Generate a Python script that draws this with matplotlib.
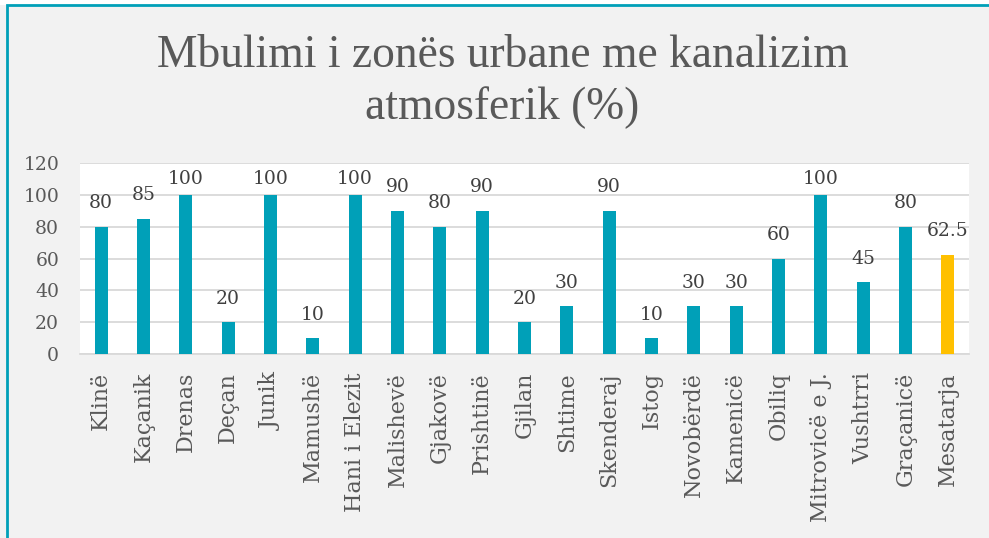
import matplotlib
matplotlib.use("Agg")
import matplotlib.pyplot as plt
from matplotlib.patches import Rectangle

categories = ["Klinë", "Kaçanik", "Drenas", "Deçan", "Junik", "Mamushë",
              "Hani i Elezit", "Malishevë", "Gjakovë", "Prishtinë", "Gjilan",
              "Shtime", "Skenderaj", "Istog", "Novobërdë", "Kamenicë", "Obiliq",
              "Mitrovicë e J.", "Vushtrri", "Graçanicë", "Mesatarja"]
values = [80, 85, 100, 20, 100, 10, 100, 90, 80, 90, 20, 30, 90, 10, 30, 30,
          60, 100, 45, 80, 62.5]
labels = ["80", "85", "100", "20", "100", "10", "100", "90", "80", "90", "20",
          "30", "90", "10", "30", "30", "60", "100", "45", "80", "62.5"]
yticks = [0, 20, 40, 60, 80, 100, 120]
title_line1 = "Mbulimi i zonës urbane me kanalizim"
title_line2 = "atmosferik (%)"

TEAL = "#00A0B8"
GOLD = "#FFC000"
BG = "#F2F2F2"
GRID = "#D9D9D9"
TXT = "#595959"
LBL = "#404040"
TFONT = ["Liberation Serif", "DejaVu Serif"]
FONT = ["DejaVu Serif", "Liberation Serif"]

W, H = 989, 538
fig = plt.figure(figsize=(W / 100, H / 100), dpi=100)
fig.patch.set_facecolor(BG)

# frame border (teal, cropped on the right and bottom)
fig.patches.append(Rectangle((6.5 / W, -0.05), 1.2, 1.05 - 5.5 / H,
                             transform=fig.transFigure, fill=False,
                             edgecolor=TEAL, linewidth=2.0, zorder=10))
fig.patches.append(Rectangle((0, 1 - 4.5 / H), 1, 4.5 / H, transform=fig.transFigure,
                             facecolor="white", edgecolor="none", zorder=9))

left, right, top, bottom = 80, 969, 163, 354
ax = fig.add_axes([left / W, 1 - bottom / H, (right - left) / W, (bottom - top) / H])
ax.set_facecolor("white")

x = list(range(len(categories)))
colors = [TEAL] * (len(categories) - 1) + [GOLD]
ax.bar(x, values, width=0.31, color=colors, zorder=3)

ax.set_xlim(-0.5, len(categories) - 0.5)
ax.set_ylim(0, 120)
ax.set_yticks(yticks)
ax.set_yticklabels([str(t) for t in yticks], family=FONT, fontsize=13.5, color=TXT)
ax.set_xticks(x)
ax.set_xticklabels(categories, rotation=90, family=FONT, fontsize=16, color=TXT,
                   va="top", ha="center")
ax.tick_params(axis="both", length=0)
ax.tick_params(axis="y", pad=15)
ax.tick_params(axis="x", pad=13)

ax.yaxis.grid(True, color=GRID, linewidth=1.3, zorder=0)
ax.set_axisbelow(True)
for s in ["top", "right", "left"]:
    ax.spines[s].set_visible(False)
ax.spines["bottom"].set_color(GRID)
ax.spines["bottom"].set_linewidth(1.3)

for xi, v, lab in zip(x, values, labels):
    ypos = min(v + 11.5, 106.5)
    ax.text(xi, ypos, lab, ha="center", va="baseline", family=FONT,
            fontsize=13.5, color=LBL, zorder=4)

fig.text(0.508, 1 - 67 / H, title_line1, ha="center",
         va="baseline", family=TFONT, fontsize=32.8, color=TXT)
fig.text(0.508, 1 - 119 / H, title_line2, ha="center",
         va="baseline", family=TFONT, fontsize=32.8, color=TXT)

fig.savefig("out.png", dpi=100, facecolor=BG)
